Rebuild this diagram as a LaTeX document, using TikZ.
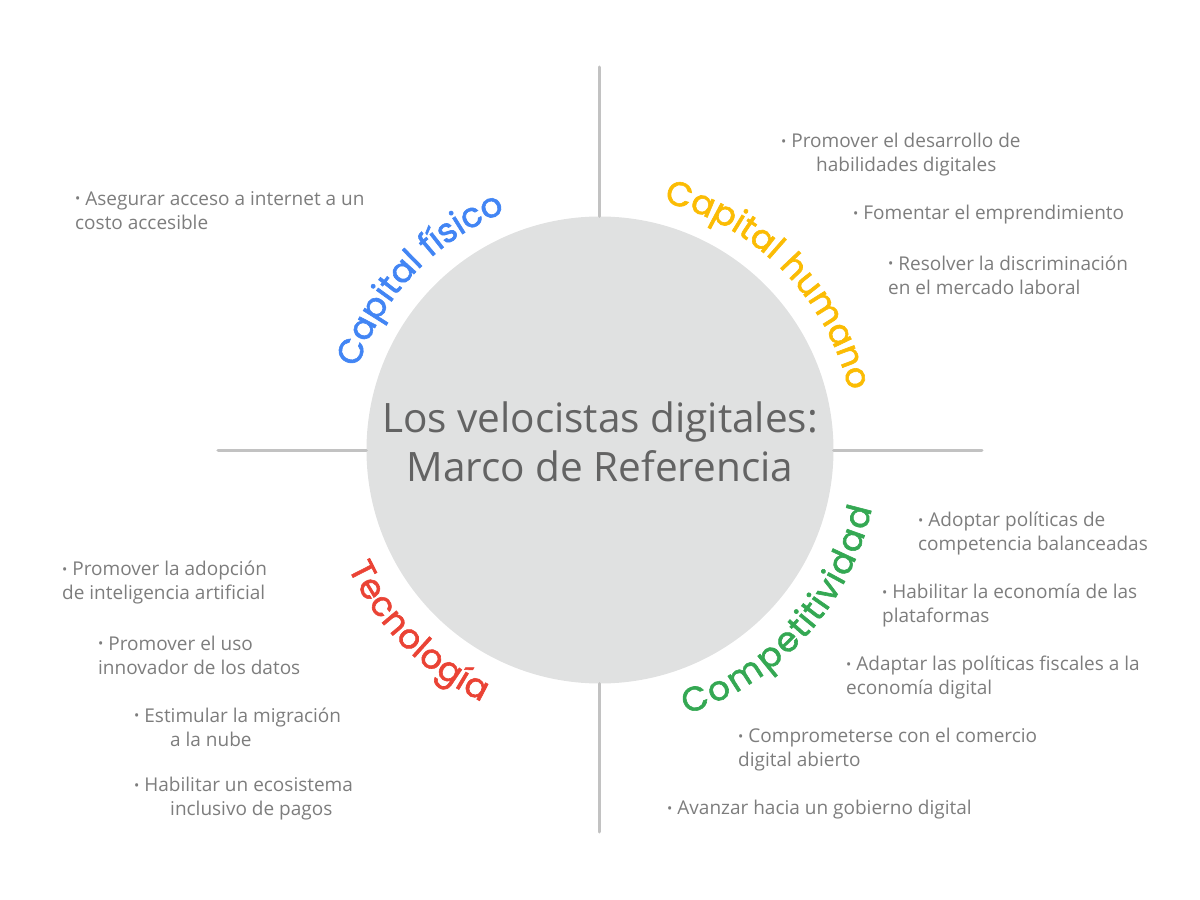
\documentclass[tikz,border=0pt]{standalone}
\usepackage{fontspec}
\setmainfont{Open Sans}
\newfontfamily\labelfont{Poppins}[FakeBold=1.8]
\usetikzlibrary{decorations.text}
\definecolor{circgray}{HTML}{E0E1E1}
\definecolor{linegray}{HTML}{C2C2C2}
\definecolor{txtgray}{HTML}{7D7D7D}
\definecolor{titlegray}{HTML}{636363}
\definecolor{gblue}{HTML}{4285F4}
\definecolor{gyellow}{HTML}{FBBC04}
\definecolor{ggreen}{HTML}{34A853}
\definecolor{gred}{HTML}{EA4335}
\newcommand\bul{\raisebox{0.1em}{\fontsize{14}{14}\selectfont•}}
\tikzset{
  item/.style={anchor=west, inner sep=0pt, align=left, text=txtgray,
    font=\fontsize{19}{24}\selectfont},
  axis/.style={draw=linegray, line width=3pt, line cap=round},
}
\begin{document}
\begin{tikzpicture}[x=1pt,y=1pt]
\useasboundingbox (-600,-450) rectangle (600,450);
\coordinate (top) at (0,383);
\coordinate (bot) at (0,-382);
\coordinate (lft) at (-382,0);
\coordinate (rgt) at (382,0);
\node[circle, fill=circgray, minimum size=467pt, inner sep=0pt] (c) at (0,0) {};
\draw[axis] (c.north) -- (top);
\draw[axis] (c.south) -- (bot);
\draw[axis] (c.west) -- (lft);
\draw[axis] (c.east) -- (rgt);
\node[align=center, text=titlegray, font=\fontsize{40.5}{49}\selectfont] (title) at (0,8)
  {Los velocistas digitales:\\Marco de Referencia};
% curved labels
\path[decorate, decoration={text along path, text align=center,
  text={|\labelfont\fontsize{34}{34}\selectfont\color{gblue}|Capital físico}}]
  (186.5:256) arc[start angle=186.5, end angle=86.5, radius=256];
\path[decorate, decoration={text along path, text align=center,
  text={|\labelfont\fontsize{34}{34}\selectfont\color{gyellow}|Capital humano}}]
  (94.5:256) arc[start angle=94.5, end angle=-5.5, radius=256];
\path[decorate, decoration={text along path, text align=center, raise=-26pt,
  text={|\labelfont\fontsize{34}{34}\selectfont\color{ggreen}|Competitividad}}]
  (-92:252) arc[start angle=-92, end angle=8, radius=252];
\path[decorate, decoration={text along path, text align=center, raise=-8pt,
  text={|\labelfont\fontsize{34}{34}\selectfont\color{gred}|Tecnología}}]
  (175:270) arc[start angle=175, end angle=275, radius=270];
% items
\node[item] (i1) at (-525,239) {\bul{} Asegurar acceso a internet a un\\costo accesible};
\node[item] (i2) at (181,295) {\bul{} Promover el desarrollo de\\\hspace*{35pt}habilidades digitales};
\node[item] (i3) at (253,235) {\bul{} Fomentar el emprendimiento};
\node[item] (i4) at (288,175) {\bul{} Resolver la discriminación\\en el mercado laboral};
\node[item] (i5) at (318,-84) {\bul{} Adoptar políticas de\\competencia balanceadas};
\node[item] (i6) at (282,-156) {\bul{} Habilitar la economía de las\\plataformas};
\node[item] (i7) at (246,-228) {\bul{} Adaptar las políticas fiscales a la\\economía digital};
\node[item] (i8) at (138,-300) {\bul{} Comprometerse con el comercio\\digital abierto};
\node[item] (i9) at (67,-360) {\bul{} Avanzar hacia un gobierno digital};
\node[item] (i10) at (-538,-133) {\bul{} Promover la adopción\\de inteligencia artificial};
\node[item] (i11) at (-502,-205) {\bul{} Promover el uso\\innovador de los datos};
\node[item] (i12) at (-466,-277) {\bul{} Estimular la migración\\\hspace*{36pt}a la nube};
\node[item] (i13) at (-466,-349) {\bul{} Habilitar un ecosistema\\\hspace*{36pt}inclusivo de pagos};
\end{tikzpicture}
\end{document}
